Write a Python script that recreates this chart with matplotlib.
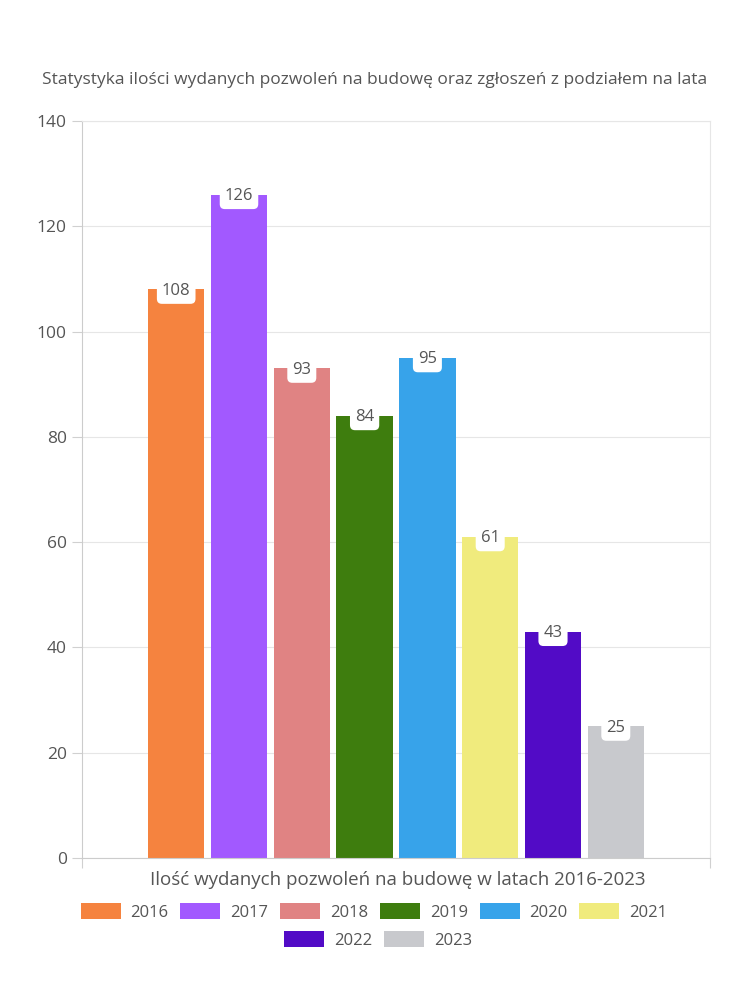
import matplotlib.pyplot as plt
from matplotlib.patches import Patch

plt.rcParams['font.family'] = ['Open Sans', 'DejaVu Sans']

years = ['2016', '2017', '2018', '2019', '2020', '2021', '2022', '2023']
values = [108, 126, 93, 84, 95, 61, 43, 25]
colors = ['#F5833F', '#A259FF', '#E08383', '#3E7D0E', '#37A3EA', '#F0EB7D', '#520BC6', '#C8C9CD']
yticks = [0, 20, 40, 60, 80, 100, 120, 140]

title = 'Statystyka ilości wydanych pozwoleń na budowę oraz zgłoszeń z podziałem na lata'
xlabel = 'Ilość wydanych pozwoleń na budowę w latach 2016-2023'

txt = '#555555'
grid = '#e6e6e6'

fig = plt.figure(figsize=(7.5, 10), dpi=100)
ax = fig.add_axes([82 / 750, 142 / 1000, 628 / 750, 737 / 1000])

n = len(values)
pitch = 0.1
width = 0.09
for i, (y, v, c) in enumerate(zip(years, values, colors)):
    xpos = (i - (n - 1) / 2) * pitch
    ax.bar(xpos, v, width=width, color=c, zorder=2)
    ax.annotate(str(v), (xpos, v), xytext=(0, -1), textcoords='offset points',
                ha='center', va='center', fontsize=12, color=txt, zorder=3,
                bbox=dict(boxstyle='round,pad=0.3,rounding_size=0.3', fc='white', ec='none'))

ax.set_xlim(-0.5, 0.5)
ax.set_ylim(0, 140)
ax.set_yticks(yticks)
ax.set_xticks([-0.5, 0.5])
ax.set_xticklabels(['', ''])
ax.grid(axis='y', color=grid, linewidth=0.8, zorder=0)
ax.tick_params(axis='y', length=7, color='#d0d0d0', labelsize=12.5, labelcolor=txt, pad=4)
ax.tick_params(axis='x', length=7, color='#d0d0d0')
for s in ['left', 'bottom']:
    ax.spines[s].set_color('#cccccc')
for s in ['top', 'right']:
    ax.spines[s].set_color(grid)

fig.text(375 / 750, 1 - 80 / 1000, title, ha='center', va='center', fontsize=12.5, color=txt)
fig.text(398 / 750, 1 - 880 / 1000, xlabel, ha='center', va='center', fontsize=13.5, color=txt)

handles = [Patch(facecolor=c, edgecolor='none') for c in colors]
fig.legend(handles[:6], years[:6], loc='center', bbox_to_anchor=(374 / 750, 1 - 912 / 1000),
           ncol=6, frameon=False, fontsize=12, labelcolor=txt,
           handlelength=2.4, handleheight=1.1, handletextpad=0.6, columnspacing=0.7)
fig.legend(handles[6:], years[6:], loc='center', bbox_to_anchor=(378 / 750, 1 - 940 / 1000),
           ncol=2, frameon=False, fontsize=12, labelcolor=txt,
           handlelength=2.4, handleheight=1.1, handletextpad=0.6, columnspacing=0.7)

plt.savefig('out.png', dpi=100)
